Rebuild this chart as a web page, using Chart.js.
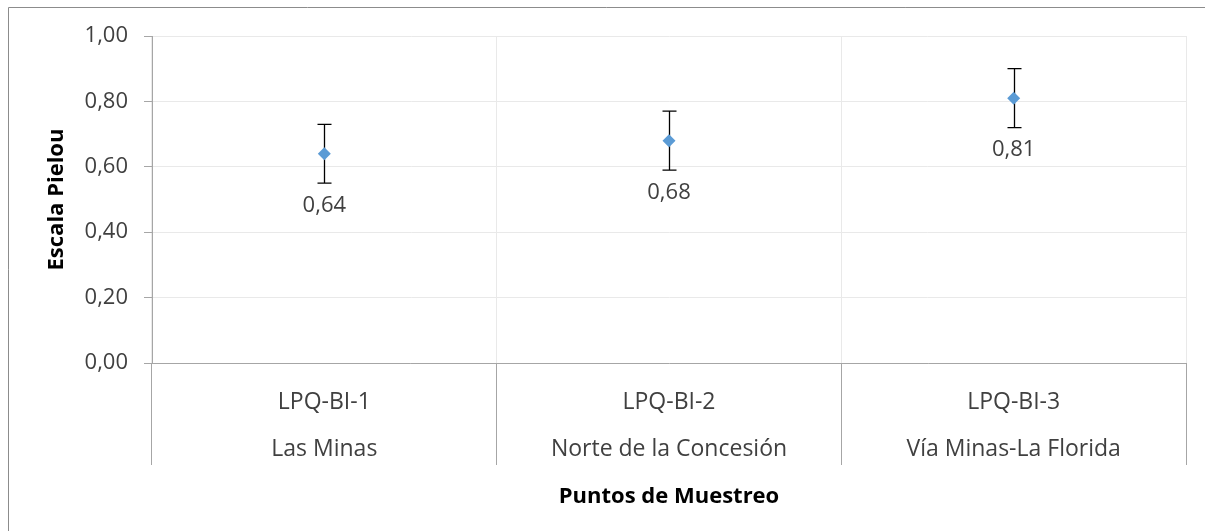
<!DOCTYPE html>
<html lang="es">
<head>
<meta charset="utf-8">
<title>Escala Pielou por punto de muestreo</title>
<script src="https://cdn.jsdelivr.net/npm/chart.js@4"></script>
<style>
  html, body { margin: 0; padding: 0; background: #fff; }
  canvas { display: block; }
</style>
</head>
<body>
<canvas id="grafico" width="1205" height="531"></canvas>
<script>
// Puntos de muestreo: código y nombre del sitio (etiqueta de dos niveles)
const codigos = ["LPQ-BI-1", "LPQ-BI-2", "LPQ-BI-3"];
const sitios = ["Las Minas", "Norte de la Concesión", "Vía Minas-La Florida"];
// Equidad de Pielou y su error
const pielou = [0.64, 0.68, 0.81];
const errores = [0.09, 0.09, 0.09];

const fuente = "'Open Sans', Lato, sans-serif";
const grisEje = "#a6a6a6";
const grisGrilla = "#e9e9e9";
const texto = "#404040";

const coma = v => v.toFixed(2).replace(".", ",");

// Marco exterior, barras de error y etiquetas de valor
const extras = {
  id: "extras",
  beforeDraw(chart) {
    const ctx = chart.ctx;
    ctx.save();
    ctx.fillStyle = "#fff";
    ctx.fillRect(0, 0, chart.width, chart.height);
    ctx.strokeStyle = "#8c8c8c";
    ctx.lineWidth = 1;
    ctx.beginPath();
    ctx.moveTo(8.5, chart.height);
    ctx.lineTo(8.5, 7.5);
    ctx.lineTo(chart.width, 7.5);
    ctx.stroke();
    ctx.restore();
  },
  beforeDatasetsDraw(chart) {
    const ctx = chart.ctx;
    const x = chart.scales.x, y = chart.scales.y;
    ctx.save();
    ctx.strokeStyle = "#000";
    ctx.lineWidth = 1.3;
    pielou.forEach((v, i) => {
      const px = Math.round(x.getPixelForValue(i)) + 0.5;
      const top = y.getPixelForValue(v + errores[i]);
      const bot = y.getPixelForValue(v - errores[i]);
      ctx.beginPath();
      ctx.moveTo(px, top); ctx.lineTo(px, bot);
      ctx.moveTo(px - 7, top); ctx.lineTo(px + 7, top);
      ctx.moveTo(px - 7, bot); ctx.lineTo(px + 7, bot);
      ctx.stroke();
    });
    ctx.restore();
  },
  afterDatasetsDraw(chart) {
    const ctx = chart.ctx;
    const x = chart.scales.x, y = chart.scales.y;
    ctx.save();
    ctx.fillStyle = texto;
    ctx.font = "22px " + fuente;
    ctx.textAlign = "center";
    ctx.textBaseline = "middle";
    pielou.forEach((v, i) => {
      ctx.fillText(coma(v), x.getPixelForValue(i), y.getPixelForValue(v) + 52);
    });
    ctx.restore();
  }
};

new Chart(document.getElementById("grafico"), {
  type: "line",
  data: {
    labels: codigos.map((c, i) => [c, sitios[i]]),
    datasets: [{
      label: "Escala Pielou",
      data: pielou,
      showLine: false,
      pointStyle: "rectRot",
      pointRadius: 6.5,
      pointHoverRadius: 6.5,
      pointBackgroundColor: "#5b9bd5",
      pointBorderColor: "#5b9bd5",
      pointBorderWidth: 0
    }]
  },
  options: {
    responsive: false,
    animation: false,
    layout: { padding: { left: 44, top: 36, right: 19, bottom: 21 } },
    plugins: {
      legend: { display: false },
      tooltip: { enabled: false }
    },
    scales: {
      x: {
        offset: true,
        grid: {
          offset: true,
          color: grisGrilla,
          tickColor: grisEje,
          tickLength: 102,
          lineWidth: 1,
          tickWidth: 1
        },
        border: { color: grisEje, width: 1 },
        ticks: {
          color: texto,
          font: { family: fuente, size: 23, lineHeight: "47px" },
          padding: -86,
          maxRotation: 0,
          autoSkip: false
        },
        title: {
          display: true,
          text: "Puntos de Muestreo",
          color: "#000",
          font: { family: fuente, size: 22, weight: "bold" },
          padding: { top: 0, bottom: 0 }
        },
        afterFit(scale) { scale.height = 147; }
      },
      y: {
        min: 0,
        max: 1,
        grid: {
          color: grisGrilla,
          tickColor: grisEje,
          tickLength: 8
        },
        border: { color: grisEje, width: 1 },
        ticks: {
          stepSize: 0.2,
          color: texto,
          padding: 16,
          font: { family: fuente, size: 22 },
          callback: v => coma(v)
        },
        title: {
          display: true,
          text: "Escala Pielou",
          color: "#000",
          font: { family: fuente, size: 22, weight: "bold" },
          padding: { top: 0, bottom: 0 }
        },
        afterFit(scale) { scale.width = 108; }
      }
    }
  },
  plugins: [extras]
});
</script>
</body>
</html>
